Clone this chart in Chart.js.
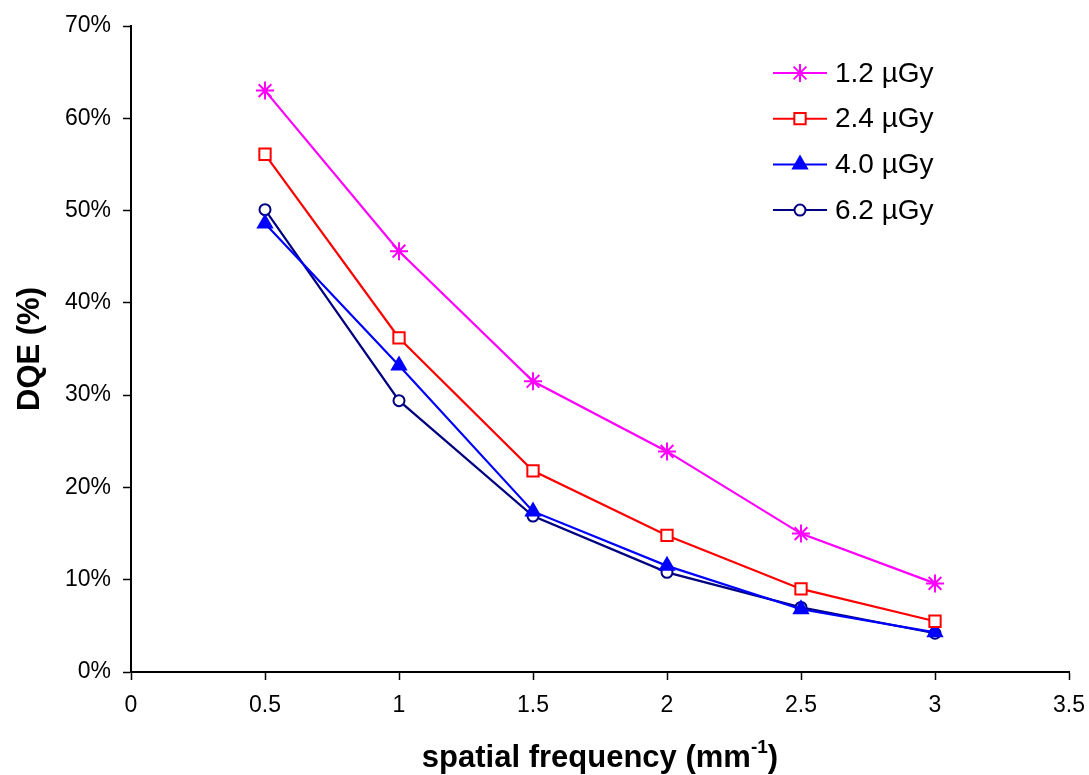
<!DOCTYPE html>
<html>
<head>
<meta charset="utf-8">
<script src="https://cdn.jsdelivr.net/npm/chart.js@4.4.0/dist/chart.umd.min.js"></script>
<style>
    html, body { margin: 0; padding: 0; background: #fff; }
    #grafico { display: block; }
</style>
</head>
<body>
<canvas id="grafico" width="1089" height="775"></canvas>
<script>
// frequência espacial (mm^-1)
const frequencias = [0.5, 1, 1.5, 2, 2.5, 3];

// DQE (%) para cada dose
const dqe12 = [63.0, 45.6, 31.5, 23.9, 15.0, 9.6];
const dqe24 = [56.1, 36.2, 21.8, 14.8, 9.0, 5.5];
const dqe40 = [48.6, 33.2, 17.4, 11.5, 6.8, 4.3];
const dqe62 = [50.1, 29.4, 16.9, 10.8, 7.0, 4.2];

const rotulosDoses = ["1.2 µGy", "2.4 µGy", "4.0 µGy", "6.2 µGy"];
const ticksX = [0, 0.5, 1, 1.5, 2, 2.5, 3, 3.5];

const fonte = "Arial, 'Liberation Sans', sans-serif";

function pontos(valores) {
    return frequencias.map((f, i) => ({ x: f, y: valores[i] }));
}

function serie(label, valores, cor, estilo, preenchido, raio) {
    return {
        label: label,
        data: pontos(valores),
        borderColor: cor,
        backgroundColor: cor,
        borderWidth: 2.2,
        pointStyle: estilo,
        pointRadius: raio,
        pointBorderWidth: 2,
        pointBackgroundColor: preenchido ? cor : "#ffffff",
        pointBorderColor: cor,
        tension: 0
    };
}

// legenda desenhada dentro da área do gráfico
const legendaInterna = {
    id: "legendaInterna",
    afterDatasetsDraw(chart) {
        const ctx = chart.ctx;
        const x0 = 773, x1 = 827, xt = 835;
        let y = 73;
        ctx.save();
        chart.data.datasets.forEach(ds => {
            ctx.strokeStyle = ds.borderColor;
            ctx.lineWidth = 2;
            ctx.beginPath();
            ctx.moveTo(x0, y);
            ctx.lineTo(x1, y);
            ctx.stroke();
            ctx.fillStyle = ds.pointBackgroundColor;
            ctx.strokeStyle = ds.borderColor;
            ctx.lineWidth = 2;
            Chart.helpers.drawPoint(ctx, {
                pointStyle: ds.pointStyle,
                radius: ds.pointRadius,
                borderWidth: 2
            }, (x0 + x1) / 2, y);
            ctx.fillStyle = "#000";
            ctx.font = "28px " + fonte;
            ctx.textBaseline = "middle";
            ctx.textAlign = "left";
            ctx.fillText(ds.label, xt, y + 1);
            y += 45.7;
        });
        ctx.restore();
    }
};

// título do eixo x com expoente
const tituloX = {
    id: "tituloX",
    afterDraw(chart) {
        const ctx = chart.ctx;
        const area = chart.chartArea;
        const principal = "spatial frequency (mm";
        const expoente = "-1";
        const fim = ")";
        ctx.save();
        ctx.fillStyle = "#000";
        ctx.textBaseline = "alphabetic";
        ctx.textAlign = "left";
        ctx.font = "bold 31px " + fonte;
        const w1 = ctx.measureText(principal).width;
        const w3 = ctx.measureText(fim).width;
        ctx.font = "bold 19px " + fonte;
        const w2 = ctx.measureText(expoente).width;
        const total = w1 + w2 + w3;
        let x = (area.left + area.right) / 2 - total / 2;
        const base = 767;
        ctx.font = "bold 31px " + fonte;
        ctx.fillText(principal, x, base);
        x += w1;
        ctx.font = "bold 19px " + fonte;
        ctx.fillText(expoente, x, base - 14);
        x += w2;
        ctx.font = "bold 31px " + fonte;
        ctx.fillText(fim, x, base);
        ctx.restore();
    }
};

new Chart(document.querySelector("#grafico"), {
    type: "line",
    data: {
        datasets: [
            serie(rotulosDoses[0], dqe12, "#FF00FF", "star", false, 9),
            serie(rotulosDoses[1], dqe24, "#FF0000", "rect", false, 8),
            serie(rotulosDoses[2], dqe40, "#0000FF", "triangle", true, 8),
            serie(rotulosDoses[3], dqe62, "#000080", "circle", false, 5.5)
        ]
    },
    plugins: [legendaInterna, tituloX],
    options: {
        responsive: false,
        animation: false,
        layout: { padding: { top: 26, right: 20, left: 12, bottom: 0 } },
        plugins: {
            legend: { display: false },
            tooltip: { enabled: false }
        },
        scales: {
            x: {
                type: "linear",
                min: 0,
                max: 3.5,
                afterBuildTicks: escala => {
                    escala.ticks = ticksX.map(v => ({ value: v }));
                },
                afterFit: escala => {
                    escala.height = 103;
                    escala.paddingLeft = 0;
                    escala.paddingRight = 0;
                },
                border: { color: "#000", width: 2 },
                grid: {
                    drawOnChartArea: false,
                    drawTicks: true,
                    tickLength: 8,
                    tickColor: "#000",
                    tickWidth: 1.5
                },
                ticks: {
                    color: "#000",
                    font: { family: fonte, size: 23 },
                    padding: 12,
                    maxRotation: 0,
                    autoSkip: false,
                    callback: v => String(v)
                }
            },
            y: {
                min: 0,
                max: 70,
                afterFit: escala => {
                    escala.width = 119;
                    escala.paddingTop = 0;
                    escala.paddingBottom = 0;
                },
                border: { color: "#000", width: 2 },
                grid: {
                    drawOnChartArea: false,
                    drawTicks: true,
                    tickLength: 8,
                    tickColor: "#000",
                    tickWidth: 1.5
                },
                ticks: {
                    stepSize: 10,
                    color: "#000",
                    font: { family: fonte, size: 23 },
                    padding: 12,
                    callback: v => v + "%"
                },
                title: {
                    display: true,
                    text: "DQE (%)",
                    color: "#000",
                    font: { family: fonte, size: 31, weight: "bold" },
                    padding: { top: 0, bottom: 0 }
                }
            }
        }
    }
});
</script>
</body>
</html>
